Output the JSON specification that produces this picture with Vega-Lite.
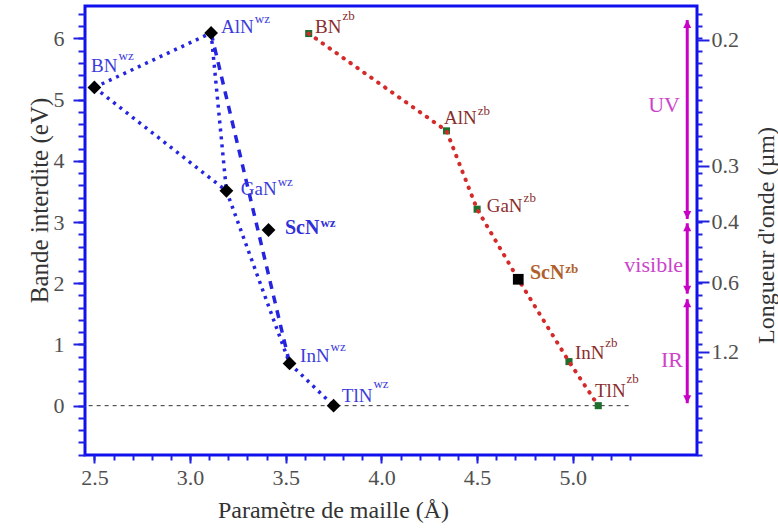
{
  "$schema": "https://vega.github.io/schema/vega-lite/v6.json",
  "width": 612,
  "height": 449,
  "autosize": {"type": "none"},
  "padding": {"left": 85, "top": 6, "right": 81, "bottom": 75},
  "background": "white",
  "config": {
    "view": {"stroke": "#1010ee", "strokeWidth": 3},
    "axis": {
      "domain": false, "grid": false, "tickColor": "#2020e0", "tickWidth": 2,
      "labelFont": "Liberation Serif", "titleFont": "Liberation Serif",
      "labelColor": "#505050", "titleColor": "#333333",
      "labelFontSize": 22, "titleFontSize": 24, "titleFontWeight": "normal",
      "labelFlush": false, "labelOverlap": false
    },
    "text": {"font": "Liberation Serif"}
  },
  "datasets": {
    "wz": [
      {"seg": 1, "o": 1, "st": "dot", "x": 2.50, "y": 5.20},
      {"seg": 1, "o": 2, "st": "dot", "x": 3.11, "y": 6.09},
      {"seg": 2, "o": 1, "st": "dot", "x": 2.50, "y": 5.20},
      {"seg": 2, "o": 2, "st": "dot", "x": 3.19, "y": 3.51},
      {"seg": 3, "o": 1, "st": "dot", "x": 3.11, "y": 6.09},
      {"seg": 3, "o": 2, "st": "dot", "x": 3.19, "y": 3.51},
      {"seg": 4, "o": 1, "st": "dot", "x": 3.19, "y": 3.51},
      {"seg": 4, "o": 2, "st": "dot", "x": 3.52, "y": 0.69},
      {"seg": 5, "o": 1, "st": "dot", "x": 3.52, "y": 0.69},
      {"seg": 5, "o": 2, "st": "dot", "x": 3.75, "y": 0.0},
      {"seg": 6, "o": 1, "st": "dash", "x": 3.11, "y": 6.09},
      {"seg": 6, "o": 2, "st": "dash", "x": 3.52, "y": 0.69}
    ],
    "wzpts": [
      {"n": "BN", "x": 2.50, "y": 5.20},
      {"n": "AlN", "x": 3.11, "y": 6.09},
      {"n": "GaN", "x": 3.19, "y": 3.51},
      {"n": "ScN", "x": 3.41, "y": 2.87},
      {"n": "InN", "x": 3.52, "y": 0.69},
      {"n": "TlN", "x": 3.75, "y": 0.0}
    ],
    "zb": [
      {"n": "BN", "o": 1, "k": "n", "x": 3.62, "y": 6.08},
      {"n": "AlN", "o": 2, "k": "n", "x": 4.34, "y": 4.49},
      {"n": "GaN", "o": 3, "k": "n", "x": 4.50, "y": 3.21},
      {"n": "ScN", "o": 4, "k": "sc", "x": 4.715, "y": 2.065},
      {"n": "InN", "o": 5, "k": "n", "x": 4.98, "y": 0.72},
      {"n": "TlN", "o": 6, "k": "n", "x": 5.133, "y": 0.0}
    ],
    "labels": [
      {"n": "BN", "s": "wz", "g": "wz", "x": 2.483, "y": 5.453, "sx": 2.626, "sy": 5.649},
      {"n": "AlN", "s": "wz", "g": "wz", "x": 3.162, "y": 6.085, "sx": 3.338, "sy": 6.258},
      {"n": "GaN", "s": "wz", "g": "wz", "x": 3.265, "y": 3.443, "sx": 3.458, "sy": 3.590},
      {"n": "ScN", "s": "wz", "g": "wzb", "x": 3.496, "y": 2.80, "sx": 3.681, "sy": 2.925},
      {"n": "InN", "s": "wz", "g": "wz", "x": 3.575, "y": 0.719, "sx": 3.734, "sy": 0.894},
      {"n": "TlN", "s": "wz", "g": "wz", "x": 3.793, "y": 0.065, "sx": 3.958, "sy": 0.289},
      {"n": "BN", "s": "zb", "g": "zb", "x": 3.653, "y": 6.095, "sx": 3.796, "sy": 6.302},
      {"n": "AlN", "s": "zb", "g": "zb", "x": 4.327, "y": 4.603, "sx": 4.503, "sy": 4.75},
      {"n": "GaN", "s": "zb", "g": "zb", "x": 4.550, "y": 3.160, "sx": 4.743, "sy": 3.333},
      {"n": "ScN", "s": "zb", "g": "zbb", "x": 4.776, "y": 2.07, "sx": 4.961, "sy": 2.168},
      {"n": "InN", "s": "zb", "g": "zb", "x": 5.011, "y": 0.763, "sx": 5.170, "sy": 0.959},
      {"n": "TlN", "s": "zb", "g": "zb", "x": 5.116, "y": 0.147, "sx": 5.281, "sy": 0.376}
    ],
    "arrows": [
      {"b": "UV", "x": 5.598, "y1": 6.30, "y2": 3.05},
      {"b": "visible", "x": 5.598, "y1": 2.98, "y2": 1.83},
      {"b": "IR", "x": 5.598, "y1": 1.74, "y2": 0.04}
    ],
    "bands": [
      {"t": "UV", "x": 5.56, "y": 4.91},
      {"t": "visible", "x": 5.576, "y": 2.30},
      {"t": "IR", "x": 5.576, "y": 0.75}
    ],
    "base": [{"x1": 2.47, "x2": 5.31, "y": 0}]
  },
  "resolve": {"axis": {"x": "independent", "y": "independent"}},
  "layer": [
    {
      "data": {"name": "base"},
      "mark": {"type": "rule", "strokeDash": [4, 4], "color": "#333333", "strokeWidth": 1},
      "encoding": {
        "x": {"field": "x1", "type": "quantitative", "scale": {"domain": [2.451, 5.649], "nice": false, "zero": false},
          "axis": {"orient": "bottom", "values": [2.5, 3, 3.5, 4, 4.5, 5], "format": ".1f", "tickSize": 8, "labelPadding": 4,
            "title": "Paramètre de maille (Å)", "titleX": 248, "titleY": 62, "titleBaseline": "alphabetic", "titleAlign": "center"}},
        "x2": {"field": "x2"},
        "y": {"field": "y", "type": "quantitative", "scale": {"domain": [-0.806, 6.53], "nice": false, "zero": false},
          "axis": {"orient": "left", "values": [0, 1, 2, 3, 4, 5, 6], "tickSize": 12, "labelPadding": 9,
            "title": "Bande interdite (eV)", "titleFontSize": 25, "titleAngle": 270, "titleX": -38, "titleY": 194, "titleBaseline": "alphabetic", "titleAlign": "center"}}
      }
    },
    {
      "data": {"name": "wz"},
      "mark": {"type": "line", "color": "#2525e0", "strokeWidth": 3.5, "strokeCap": "butt"},
      "encoding": {
        "x": {"field": "x", "type": "quantitative", "scale": {"domain": [2.451, 5.649], "nice": false, "zero": false},
          "axis": {"orient": "bottom", "values": [2.5, 2.6, 2.7, 2.8, 2.9, 3.0, 3.1, 3.2, 3.3, 3.4, 3.5, 3.6, 3.7, 3.8, 3.9, 4.0, 4.1, 4.2, 4.3, 4.4, 4.5, 4.6, 4.7, 4.8, 4.9, 5.0, 5.1, 5.2, 5.3], "tickSize": 5, "labels": false, "title": null}},
        "y": {"field": "y", "type": "quantitative", "scale": {"domain": [-0.806, 6.53], "nice": false, "zero": false},
          "axis": {"orient": "left", "values": [-0.8, -0.6, -0.4, -0.2, 0, 0.2, 0.4, 0.6, 0.8, 1, 1.2, 1.4, 1.6, 1.8, 2, 2.2, 2.4, 2.6, 2.8, 3, 3.2, 3.4, 3.6, 3.8, 4, 4.2, 4.4, 4.6, 4.8, 5, 5.2, 5.4, 5.6, 5.8, 6, 6.2, 6.4], "tickSize": 7, "labels": false, "title": null}},
        "detail": {"field": "seg", "type": "nominal"},
        "order": {"field": "o", "type": "quantitative"},
        "strokeDash": {"field": "st", "type": "nominal", "scale": {"domain": ["dot", "dash"], "range": [[3, 5], [8, 7]]}, "legend": null}
      }
    },
    {
      "data": {"name": "wzpts"},
      "mark": {"type": "point", "shape": "diamond", "filled": true, "color": "#000000", "size": 190, "opacity": 1},
      "encoding": {
        "x": {"field": "x", "type": "quantitative", "scale": {"domain": [2.451, 5.649], "nice": false, "zero": false}, "axis": null},
        "y": {"field": "y", "type": "quantitative", "scale": {"domain": [-0.806, 6.53], "nice": false, "zero": false},
          "axis": {"orient": "right", "values": [-0.8, -0.6, -0.4, -0.2, 0, 0.2, 0.4, 0.6, 0.8, 1, 1.2, 1.4, 1.6, 1.8, 2, 2.2, 2.4, 2.6, 2.8, 3, 3.2, 3.4, 3.6, 3.8, 4, 4.2, 4.4, 4.6, 4.8, 5, 5.2, 5.4, 5.6, 5.8, 6, 6.2, 6.4], "tickSize": 5, "labels": false, "title": null}}
      }
    },
    {
      "data": {"name": "zb"},
      "transform": [{"filter": "datum.k == 'n'"}],
      "mark": {"type": "point", "shape": "square", "filled": true, "color": "#1e6e2e", "size": 50, "opacity": 1},
      "encoding": {
        "x": {"field": "x", "type": "quantitative", "scale": {"domain": [2.451, 5.649], "nice": false, "zero": false}, "axis": null},
        "y": {"field": "y", "type": "quantitative", "scale": {"domain": [-0.806, 6.53], "nice": false, "zero": false},
          "axis": {"orient": "right", "values": [5.98, 3.92, 3.01, 2.02, 0.88], "tickSize": 12, "labelPadding": 2,
            "labelExpr": "datum.value == 5.98 ? '0.2' : datum.value == 3.92 ? '0.3' : datum.value == 3.01 ? '0.4' : datum.value == 2.02 ? '0.6' : '1.2'",
            "title": "Longueur d'onde (µm)", "titleAngle": 270, "titleX": 76, "titleY": 229, "titleBaseline": "alphabetic", "titleAlign": "center"}}
      }
    },
    {
      "data": {"name": "zb"},
      "mark": {"type": "line", "color": "#d42a2a", "strokeWidth": 4, "strokeCap": "round", "strokeDash": [0.5, 8]},
      "encoding": {
        "x": {"field": "x", "type": "quantitative", "scale": {"domain": [2.451, 5.649], "nice": false, "zero": false}, "axis": null},
        "y": {"field": "y", "type": "quantitative", "scale": {"domain": [-0.806, 6.53], "nice": false, "zero": false}, "axis": null},
        "order": {"field": "o", "type": "quantitative"}
      }
    },
    {
      "data": {"name": "zb"},
      "transform": [{"filter": "datum.k == 'sc'"}],
      "mark": {"type": "point", "shape": "square", "filled": true, "color": "#000000", "size": 115, "opacity": 1},
      "encoding": {
        "x": {"field": "x", "type": "quantitative", "scale": {"domain": [2.451, 5.649], "nice": false, "zero": false}, "axis": null},
        "y": {"field": "y", "type": "quantitative", "scale": {"domain": [-0.806, 6.53], "nice": false, "zero": false}, "axis": null}
      }
    },
    {
      "data": {"name": "arrows"},
      "mark": {"type": "rule", "color": "#c800c8", "strokeWidth": 3},
      "encoding": {
        "x": {"field": "x", "type": "quantitative", "scale": {"domain": [2.451, 5.649], "nice": false, "zero": false}, "axis": null},
        "y": {"field": "y1", "type": "quantitative", "scale": {"domain": [-0.806, 6.53], "nice": false, "zero": false}, "axis": null},
        "y2": {"field": "y2"}
      }
    },
    {
      "data": {"name": "arrows"},
      "mark": {"type": "point", "shape": "M-1,1L0,-1L1,1Z", "filled": true, "color": "#c800c8", "size": 64, "opacity": 1, "yOffset": 4},
      "encoding": {
        "x": {"field": "x", "type": "quantitative", "scale": {"domain": [2.451, 5.649], "nice": false, "zero": false}, "axis": null},
        "y": {"field": "y1", "type": "quantitative", "scale": {"domain": [-0.806, 6.53], "nice": false, "zero": false}, "axis": null}
      }
    },
    {
      "data": {"name": "arrows"},
      "mark": {"type": "point", "shape": "M-1,-1L0,1L1,-1Z", "filled": true, "color": "#c800c8", "size": 64, "opacity": 1, "yOffset": -4},
      "encoding": {
        "x": {"field": "x", "type": "quantitative", "scale": {"domain": [2.451, 5.649], "nice": false, "zero": false}, "axis": null},
        "y": {"field": "y2", "type": "quantitative", "scale": {"domain": [-0.806, 6.53], "nice": false, "zero": false}, "axis": null}
      }
    },
    {
      "data": {"name": "bands"},
      "mark": {"type": "text", "align": "right", "baseline": "middle", "fontSize": 22, "color": "#cc44cc", "font": "Liberation Serif"},
      "encoding": {
        "x": {"field": "x", "type": "quantitative", "scale": {"domain": [2.451, 5.649], "nice": false, "zero": false}, "axis": null},
        "y": {"field": "y", "type": "quantitative", "scale": {"domain": [-0.806, 6.53], "nice": false, "zero": false}, "axis": null},
        "text": {"field": "t"}
      }
    },
    {
      "data": {"name": "labels"},
      "transform": [{"filter": "datum.g == 'wz' || datum.g == 'zb'"}],
      "mark": {"type": "text", "align": "left", "baseline": "alphabetic", "fontSize": 19, "font": "Liberation Serif"},
      "encoding": {
        "x": {"field": "x", "type": "quantitative", "scale": {"domain": [2.451, 5.649], "nice": false, "zero": false}, "axis": null},
        "y": {"field": "y", "type": "quantitative", "scale": {"domain": [-0.806, 6.53], "nice": false, "zero": false}, "axis": null},
        "text": {"field": "n"},
        "color": {"field": "g", "type": "nominal", "scale": {"domain": ["wz", "wzb", "zb", "zbb"], "range": ["#3b3bdc", "#3030d8", "#8a2d2d", "#b0602c"]}, "legend": null}
      }
    },
    {
      "data": {"name": "labels"},
      "transform": [{"filter": "datum.g == 'wz' || datum.g == 'zb'"}],
      "mark": {"type": "text", "align": "left", "baseline": "alphabetic", "fontSize": 13, "font": "Liberation Serif"},
      "encoding": {
        "x": {"field": "sx", "type": "quantitative", "scale": {"domain": [2.451, 5.649], "nice": false, "zero": false}, "axis": null},
        "y": {"field": "sy", "type": "quantitative", "scale": {"domain": [-0.806, 6.53], "nice": false, "zero": false}, "axis": null},
        "text": {"field": "s"},
        "color": {"field": "g", "type": "nominal", "scale": {"domain": ["wz", "wzb", "zb", "zbb"], "range": ["#3b3bdc", "#3030d8", "#8a2d2d", "#b0602c"]}, "legend": null}
      }
    },
    {
      "data": {"name": "labels"},
      "transform": [{"filter": "datum.g == 'wzb' || datum.g == 'zbb'"}],
      "mark": {"type": "text", "align": "left", "baseline": "alphabetic", "fontSize": 20, "fontWeight": "bold", "font": "Liberation Serif"},
      "encoding": {
        "x": {"field": "x", "type": "quantitative", "scale": {"domain": [2.451, 5.649], "nice": false, "zero": false}, "axis": null},
        "y": {"field": "y", "type": "quantitative", "scale": {"domain": [-0.806, 6.53], "nice": false, "zero": false}, "axis": null},
        "text": {"field": "n"},
        "color": {"field": "g", "type": "nominal", "scale": {"domain": ["wz", "wzb", "zb", "zbb"], "range": ["#3b3bdc", "#3030d8", "#8a2d2d", "#b0602c"]}, "legend": null}
      }
    },
    {
      "data": {"name": "labels"},
      "transform": [{"filter": "datum.g == 'wzb' || datum.g == 'zbb'"}],
      "mark": {"type": "text", "align": "left", "baseline": "alphabetic", "fontSize": 13, "fontWeight": "bold", "font": "Liberation Serif"},
      "encoding": {
        "x": {"field": "sx", "type": "quantitative", "scale": {"domain": [2.451, 5.649], "nice": false, "zero": false}, "axis": null},
        "y": {"field": "sy", "type": "quantitative", "scale": {"domain": [-0.806, 6.53], "nice": false, "zero": false}, "axis": null},
        "text": {"field": "s"},
        "color": {"field": "g", "type": "nominal", "scale": {"domain": ["wz", "wzb", "zb", "zbb"], "range": ["#3b3bdc", "#3030d8", "#8a2d2d", "#b0602c"]}, "legend": null}
      }
    }
  ]
}
